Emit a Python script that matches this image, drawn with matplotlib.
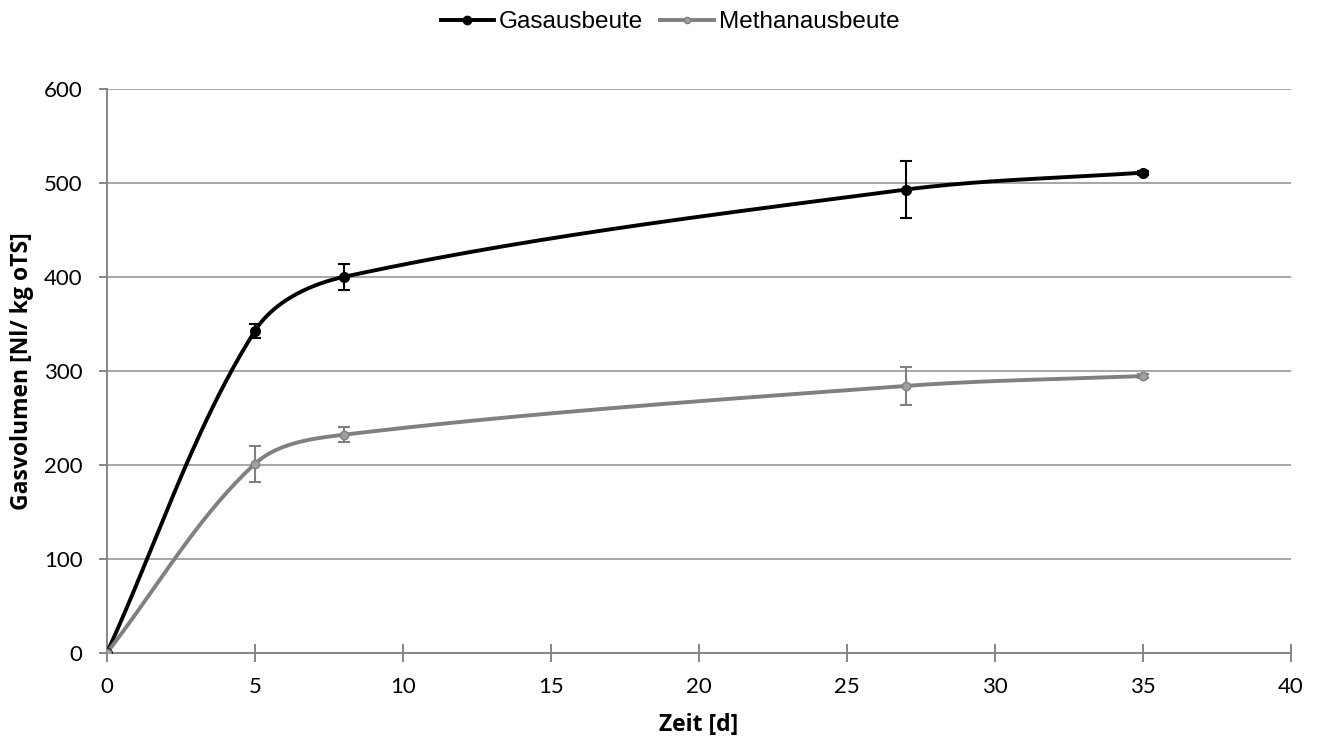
import numpy as np
import matplotlib
matplotlib.use('Agg')
import matplotlib.pyplot as plt

# Daten
zeit = [0, 5, 8, 27, 35]
gas = [0, 342.5, 400, 493, 511]
gas_err = [0, 7.5, 14, 30, 2]
methan = [0, 201, 232, 284, 294.5]
methan_err = [0, 19, 8, 20, 2]


def glatt(ax, x, y, n=50, k=1/3):
    # Bezier-Glaettung in Bildschirmkoordinaten (aehnlich Excel)
    trans = ax.transData
    p = trans.transform(np.column_stack([x, y]))
    out = [p[0]]
    t = np.linspace(0, 1, n)[1:, None]
    for i in range(len(p) - 1):
        seg_len = np.hypot(*(p[i + 1] - p[i]))
        d0 = p[i + 1] - (p[i - 1] if i > 0 else p[i])
        d1 = (p[i + 2] if i + 2 < len(p) else p[i + 1]) - p[i]
        d0 = d0 / np.hypot(*d0)
        d1 = d1 / np.hypot(*d1)
        c1 = p[i] + d0 * seg_len * k
        c2 = p[i + 1] - d1 * seg_len * k
        seg = ((1 - t) ** 3 * p[i] + 3 * (1 - t) ** 2 * t * c1
               + 3 * (1 - t) * t ** 2 * c2 + t ** 3 * p[i + 1])
        out.extend(seg)
    out = trans.inverted().transform(np.array(out))
    return out[:, 0], out[:, 1]


fig = plt.figure(figsize=(13.17, 7.4), dpi=100)
ax = fig.add_axes([0.0812, 0.1180, 0.8988, 0.7617])
ax.set_xlim(0, 40)
ax.set_ylim(0, 600)

for y, err, farbe, mfarbe, ms, lms, name in [
        (gas, gas_err, 'black', 'black', 7, 6, 'Gasausbeute'),
        (methan, methan_err, '#808080', '#A0A0A0', 6, 4.5, 'Methanausbeute')]:
    xs, ys = glatt(ax, zeit, y)
    ax.plot(xs, ys, color=farbe, lw=2.8, zorder=3, solid_capstyle='round')
    ax.errorbar(zeit, y, yerr=err, fmt='none', ecolor=farbe, elinewidth=1.5,
                capsize=4.5, capthick=1.5, zorder=4)
    ax.plot(zeit, y, 'o', color=mfarbe, mec=farbe, ms=ms, mew=1, zorder=5)
    ax.plot([], [], '-o', color=farbe, mfc=mfarbe, mec=farbe, lw=2.8, ms=lms,
            label=name)

ax.set_xticks(range(0, 41, 5))
ax.set_yticks(range(0, 601, 100))
ax.grid(axis='y', color='#A6A6A6', lw=1.4)
ax.set_axisbelow(True)
for s in ['top', 'right']:
    ax.spines[s].set_visible(False)
for s in ['left', 'bottom']:
    ax.spines[s].set_color('#868686')
    ax.spines[s].set_linewidth(1.4)
ax.tick_params(axis='x', direction='inout', length=13.5, width=1.4, color='#868686', pad=11)
ax.tick_params(axis='y', direction='out', length=5.5, width=1.4, color='#868686', pad=12)
for lab in ax.get_xticklabels() + ax.get_yticklabels():
    lab.set_fontfamily('Lato')
    lab.set_fontsize(16)

ax.set_xlabel('Zeit [d]', fontfamily='Open Sans', fontweight='bold',
              fontsize=16.5, labelpad=11)
ax.set_ylabel('Gasvolumen [Nl/ kg oTS]', fontfamily='Open Sans',
              fontweight='bold', fontsize=16.5, labelpad=7)

fig.legend(loc='center', bbox_to_anchor=(0.5087, 1 - 22 / 740), ncol=2, frameon=False,
           prop={'family': 'Liberation Sans', 'size': 17.5}, handlelength=2.2,
           handletextpad=0.2, columnspacing=0.7)

fig.savefig('out.png', dpi=100)
